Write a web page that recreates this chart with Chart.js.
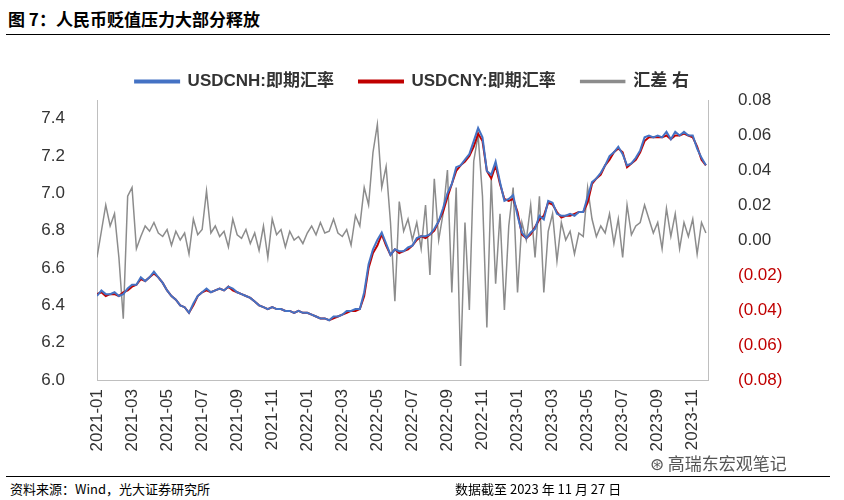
<!DOCTYPE html>
<html>
<head>
<meta charset="utf-8">
<script src="https://cdn.jsdelivr.net/npm/chart.js@4"></script>
<style>
  body { margin: 0; width: 844px; height: 500px; background: #fff; font-family: "Liberation Sans", "Noto Sans CJK SC", sans-serif; position: relative; overflow: hidden; }
  #title { position: absolute; left: 8px; top: 6px; font-size: 17px; font-weight: bold; color: #000; font-family: "Noto Sans CJK SC", sans-serif; }
  #tline { position: absolute; left: 6px; right: 14px; top: 34px; border-top: 1.5px solid #000; }
  #box { position: absolute; left: 0; top: 40px; width: 844px; height: 432px; }
  #fline { position: absolute; left: 6px; right: 14px; top: 476px; border-top: 1px solid #000; }
  #src { position: absolute; left: 10px; top: 479px; font-size: 13px; font-family: "Noto Sans CJK SC", sans-serif; }
  #date { position: absolute; left: 455px; top: 479px; font-size: 13px; font-family: "Noto Sans CJK SC", sans-serif; }
  #wm { position: absolute; left: 650px; top: 450px; font-size: 17px; color: #555; font-family: "Noto Sans CJK SC", sans-serif; }
</style>
</head>
<body>
<div id="title">图 7：人民币贬值压力大部分释放</div>
<div id="tline"></div>
<div id="box"><canvas id="c"></canvas></div>
<div id="wm">⊛ 高瑞东宏观笔记</div>
<div id="fline"></div>
<div id="src">资料来源：Wind，光大证券研究所</div>
<div id="date">数据截至 2023 年 11 月 27 日</div>
<script>
// weekly-ish samples, 4 per month, Jan 2021 .. Nov 2023
const usdcny = [
  6.46,6.47,6.45,6.46, 6.46,6.45,6.47,6.48, 6.50,6.51,6.54,6.53, 6.55,6.57,6.55,6.52,
  6.48,6.45,6.43,6.40, 6.39,6.36,6.40,6.45, 6.47,6.48,6.47,6.48, 6.49,6.48,6.50,6.48,
  6.47,6.46,6.45,6.44, 6.42,6.40,6.39,6.38, 6.39,6.38,6.38,6.37, 6.37,6.36,6.37,6.36,
  6.36,6.35,6.34,6.33, 6.33,6.32,6.33,6.34, 6.35,6.36,6.37,6.37, 6.38,6.45,6.60,6.68,
  6.72,6.78,6.72,6.67, 6.70,6.68,6.69,6.70, 6.72,6.75,6.77,6.76, 6.78,6.80,6.85,6.90,
  6.98,7.05,7.12,7.15, 7.17,7.20,7.25,7.32, 7.28,7.12,7.08,7.15, 7.05,6.97,6.96,6.97,
  6.90,6.78,6.76,6.78, 6.82,6.86,6.88,6.95, 6.94,6.90,6.87,6.88, 6.88,6.89,6.90,6.90,
  6.95,7.05,7.08,7.10, 7.15,7.18,7.22,7.24, 7.22,7.14,7.16,7.18, 7.22,7.28,7.30,7.30,
  7.30,7.30,7.31,7.29, 7.31,7.31,7.32,7.31, 7.30,7.25,7.18,7.15
];
const usdcnh = [
  6.45,6.48,6.46,6.46, 6.47,6.45,6.46,6.49, 6.51,6.51,6.55,6.53, 6.55,6.58,6.55,6.52,
  6.48,6.45,6.43,6.40, 6.39,6.36,6.41,6.45, 6.47,6.49,6.47,6.48, 6.49,6.48,6.50,6.49,
  6.47,6.46,6.45,6.44, 6.42,6.40,6.39,6.38, 6.39,6.38,6.38,6.37, 6.37,6.36,6.37,6.36,
  6.36,6.35,6.34,6.33, 6.33,6.32,6.34,6.34, 6.35,6.37,6.37,6.38, 6.38,6.47,6.62,6.70,
  6.75,6.79,6.73,6.67, 6.70,6.69,6.69,6.71, 6.72,6.76,6.77,6.77, 6.78,6.81,6.85,6.92,
  7.00,7.05,7.14,7.15, 7.18,7.21,7.28,7.35, 7.30,7.12,7.10,7.17, 7.06,6.96,6.97,6.99,
  6.88,6.79,6.76,6.79, 6.81,6.88,6.86,6.96, 6.95,6.89,6.88,6.88, 6.89,6.88,6.90,6.90,
  6.98,7.06,7.08,7.11, 7.15,7.20,7.22,7.25, 7.21,7.15,7.16,7.19, 7.23,7.30,7.31,7.30,
  7.31,7.30,7.33,7.29, 7.33,7.31,7.33,7.31, 7.31,7.24,7.19,7.15
];
const spread = [
  -0.010,0.005,0.020,0.008, 0.015,-0.010,-0.045,0.025, 0.030,-0.005,0.002,0.008, 0.005,0.010,0.004,0.002,
  0.006,-0.003,0.005,0.000, 0.004,-0.008,0.012,0.003, 0.006,0.028,0.004,0.008, 0.002,0.005,-0.004,0.012,
  0.003,0.001,0.006,-0.002, 0.004,-0.006,0.008,-0.010, 0.012,0.003,0.006,-0.004, 0.005,0.000,0.002,-0.002,
  0.004,0.008,0.003,0.010, 0.004,0.005,0.012,0.004, 0.002,0.006,-0.003,0.014, 0.008,0.030,0.020,0.050,
  0.066,0.030,0.042,0.010, -0.035,0.022,0.005,0.012, 0.000,0.010,-0.005,0.020, -0.020,0.035,0.000,0.015,
  0.040,-0.030,0.030,-0.072, 0.010,-0.040,0.045,0.060, 0.025,-0.050,0.035,-0.025, 0.015,-0.040,0.008,0.030,
  -0.030,0.010,0.000,0.020, -0.010,0.025,-0.030,0.005, 0.015,-0.012,0.010,0.000, 0.005,-0.008,0.004,0.002,
  0.030,0.012,0.002,0.008, 0.004,0.015,-0.002,0.012, -0.010,0.020,0.003,0.008, 0.010,0.020,0.012,0.004,
  0.010,-0.005,0.018,0.002, 0.015,-0.005,0.010,0.002, 0.012,-0.008,0.010,0.004
];
const leftTicks = [6.0, 6.2, 6.4, 6.6, 6.8, 7.0, 7.2, 7.4];
const monthTicks = [0, 2, 4, 6, 8, 10, 12, 14, 16, 18, 20, 22, 24, 26, 28, 30, 32, 34];

const pts = arr => arr.map((v, i) => ({ x: i / 4, y: v }));
const tickFont = { family: "Liberation Sans", size: 17 };

new Chart(document.getElementById("c"), {
  type: "line",
  data: {
    datasets: [
      { label: "USDCNH:即期汇率", data: pts(usdcnh), borderColor: "#4472c4", backgroundColor: "#4472c4", borderWidth: 2, pointRadius: 0, yAxisID: "y" },
      { label: "USDCNY:即期汇率", data: pts(usdcny), borderColor: "#c00000", backgroundColor: "#c00000", borderWidth: 2, pointRadius: 0, yAxisID: "y" },
      { label: "汇差 右", data: pts(spread), borderColor: "#8c8c8c", backgroundColor: "#8c8c8c", borderWidth: 1.5, pointRadius: 0, yAxisID: "y1" }
    ]
  },
  options: {
    animation: false,
    responsive: true,
    maintainAspectRatio: false,
    layout: { padding: { top: 8, right: 20, left: 0, bottom: 0 } },
    plugins: {
      legend: {
        labels: {
          boxWidth: 44, boxHeight: 2, padding: 25, color: "#333",
          font: { family: "Liberation Sans, Noto Sans CJK SC", size: 17, weight: "bold" }
        }
      },
      tooltip: { enabled: false }
    },
    scales: {
      x: {
        type: "linear", min: 0, max: 34.87,
        afterFit: s => { s.height = 92; },
        afterBuildTicks: s => { s.ticks = monthTicks.map(v => ({ value: v })); },
        grid: { display: false, drawTicks: true, tickLength: 6, color: "#bfbfbf" },
        border: { color: "#bfbfbf" },
        ticks: {
          maxRotation: 90, minRotation: 90, color: "#333", font: tickFont, autoSkip: false,
          callback: v => {
            const y = 2021 + Math.floor(v / 12), m = v % 12 + 1;
            return y + "-" + String(m).padStart(2, "0");
          }
        }
      },
      y: {
        position: "left", min: 6.0, max: 7.5,
        afterFit: s => { s.width = 97; },
        grid: { display: false },
        border: { color: "#bfbfbf" },
        afterBuildTicks: s => { s.ticks = leftTicks.map(v => ({ value: v })); },
        ticks: { autoSkip: false, padding: 24, color: "#333", font: tickFont, callback: v => v.toFixed(1) }
      },
      y1: {
        position: "right", min: -0.08, max: 0.08,
        afterFit: s => { s.width = 116; },
        grid: { display: false },
        border: { color: "#bfbfbf" },
        ticks: {
          stepSize: 0.02, autoSkip: false, font: tickFont, padding: 22,
          color: c => c.tick && c.tick.value < -1e-9 ? "#c00000" : "#333",
          callback: v => v < -1e-9 ? "(" + Math.abs(v).toFixed(2) + ")" : Math.abs(v).toFixed(2)
        }
      }
    }
  }
});
</script>
</body>
</html>
